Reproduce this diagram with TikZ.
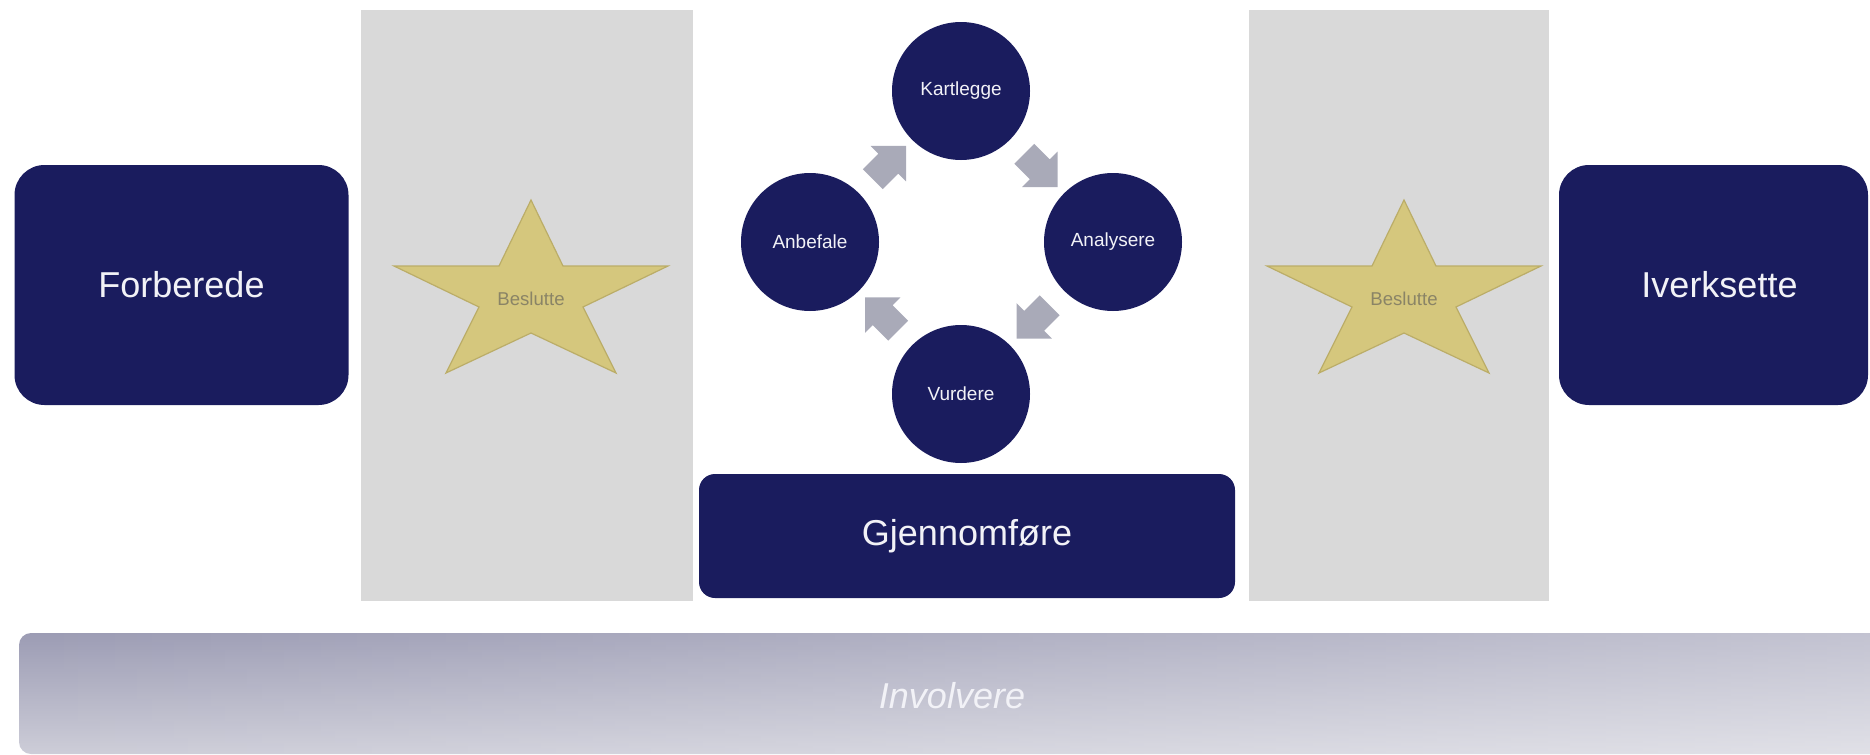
\documentclass[tikz,border=0pt]{standalone}
\usepackage{fontspec}
\setmainfont{Liberation Sans}
\usetikzlibrary{calc,fadings}
\definecolor{navy}{HTML}{1A1C5E}
\definecolor{panelgray}{HTML}{D9D9D9}
\definecolor{starfill}{HTML}{D5C77D}
\definecolor{stardraw}{HTML}{BBAD68}
\definecolor{startxt}{HTML}{8A8466}
\definecolor{arrowgray}{HTML}{A9AAB8}
\definecolor{txtwhite}{HTML}{F2F2F7}
\definecolor{invdark}{HTML}{9C9CB4}
\definecolor{invlight}{HTML}{CDCDD8}
\begin{document}
\begin{tikzpicture}[x=0.5pt,y=-0.5pt,
  panel/.style={fill=panelgray, draw=none, inner sep=0pt},
  bigbox/.style={fill=navy, draw=none, inner sep=0pt, text=txtwhite,
    font=\fontsize{18}{21}\selectfont},
  circ/.style={circle, fill=navy, draw=none, inner sep=0pt, minimum size=69pt,
    text=txtwhite, font=\fontsize{9.5}{11}\selectfont},
  blockarrow/.style={fill=arrowgray, draw=none},
  starshape/.style={fill=starfill, draw=stardraw, line width=0.6pt, line join=miter},
  startext/.style={text=startxt, font=\fontsize{9.3}{11}\selectfont, inner sep=0pt},
  invtext/.style={text=txtwhite, font=\fontsize{18}{21}\selectfont\itshape, inner sep=0pt}
]
\useasboundingbox (0,0) rectangle (1870,755);
\clip (0,0) rectangle (1870,755);

% gray panels
\node[panel, minimum width=166pt, minimum height=295.5pt] (p1) at (527,305.5) {};
\node[panel, minimum width=150pt, minimum height=295.5pt] (p2) at (1399,305.5) {};

% involvere bar
\shade[rounded corners=6pt, top color=invdark, bottom color=invlight]
  (19,633) rectangle (1885,754);
\fill[white, path fading=west, fill opacity=0.4, rounded corners=6pt]
  (19,633) rectangle (1885,754);
\node[invtext] (inv) at (952,696) {Involvere};

% side boxes
\node[bigbox, rounded corners=15pt, minimum width=167pt, minimum height=120pt] (forb) at (181.5,285) {Forberede};
\node[bigbox, rounded corners=15pt, minimum width=154.5pt, minimum height=120pt] (iverk) at (1713.5,285) {\hspace*{6pt}Iverksette};
\node[bigbox, rounded corners=8pt, minimum width=268pt, minimum height=62pt] (gjen) at (967,536) {Gjennomføre};

% cycle circles
\node[circ] (kar) at (961,91) {Kartlegge};
\node[circ] (ana) at (1113,242) {Analysere};
\node[circ] (vur) at (961,394) {Vurdere};
\node[circ] (anb) at (810,242) {Anbefale};

% cycle block arrows
\fill[blockarrow, shift={($(anb)!0.5!(kar)$)}, rotate=45]
  (-18,-14) -- (4,-14) -- (4,-25) -- (29,0) -- (4,25) -- (4,14) -- (-18,14) -- cycle;
\fill[blockarrow, shift={($(kar)!0.5!(ana)$)}, rotate=-45]
  (-18,-14) -- (4,-14) -- (4,-25) -- (29,0) -- (4,25) -- (4,14) -- (-18,14) -- cycle;
\fill[blockarrow, shift={($(ana)!0.5!(vur)$)}, rotate=-135]
  (-18,-14) -- (4,-14) -- (4,-25) -- (29,0) -- (4,25) -- (4,14) -- (-18,14) -- cycle;
\fill[blockarrow, shift={($(vur)!0.5!(anb)$)}, rotate=135]
  (-18,-14) -- (4,-14) -- (4,-25) -- (29,0) -- (4,25) -- (4,14) -- (-18,14) -- cycle;

% stars
\coordinate (s1) at (531,286);
\coordinate (s2) at (1404,286);
\foreach \s in {s1,s2}{
  \draw[starshape, shift={(\s)}]
    (0,-86) -- (32,-20) -- (137,-20) -- (52,21) -- (85,87) -- (0,47)
    -- (-85,87) -- (-52,21) -- (-137,-20) -- (-32,-20) -- cycle;
}
\node[startext] (b1) at ($(s1)+(0,13)$) {Beslutte};
\node[startext] (b2) at ($(s2)+(0,13)$) {Beslutte};
\end{tikzpicture}
\end{document}
